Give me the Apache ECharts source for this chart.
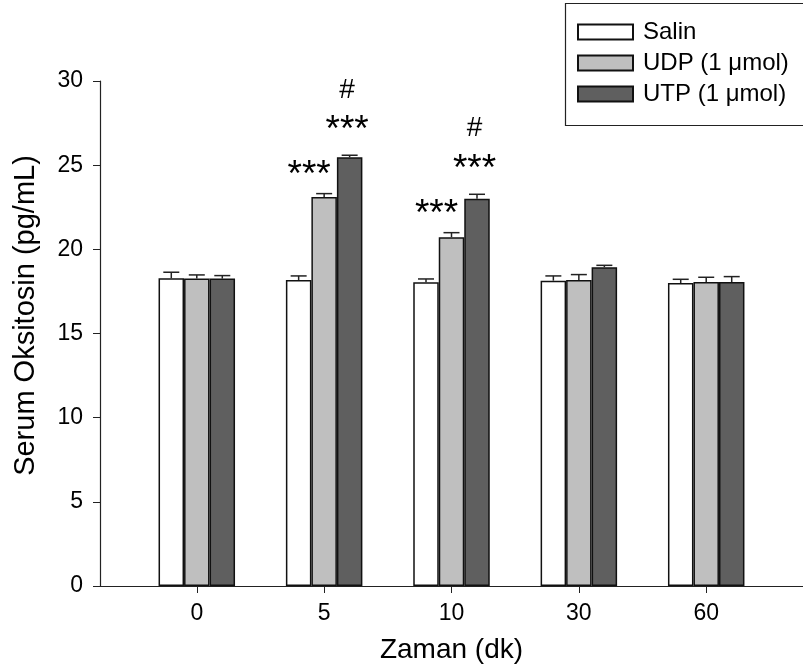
<!DOCTYPE html>
<html>
<head>
<meta charset="utf-8">
<script src="https://cdn.jsdelivr.net/npm/echarts@6/dist/echarts.min.js"></script>
<style>
  html, body { margin: 0; padding: 0; background: #fff; }
  #main { width: 803px; height: 672px; }
</style>
</head>
<body>
<div id="main"></div>
<script>
const categories = ['0', '5', '10', '30', '60'];
const yTicks = [0, 5, 10, 15, 20, 25, 30];

const salin = [18.28, 18.18, 18.04, 18.14, 18.0];
const salinErr = [0.36, 0.24, 0.2, 0.28, 0.22];
const udp = [18.26, 23.11, 20.72, 18.18, 18.06];
const udpErr = [0.22, 0.2, 0.27, 0.32, 0.28];
const utp = [18.26, 25.47, 23.0, 18.94, 18.06];
const utpErr = [0.18, 0.12, 0.27, 0.11, 0.32];

// significance marks: [category index, series index, y value, text]
const marks = [
    [1, 1, 24.84, '***'],
    [1, 2, 27.5, '***'],
    [1, 2, 29.47, '#'],
    [2, 1, 22.52, '***'],
    [2, 2, 25.19, '***'],
    [2, 2, 27.21, '#'],
];

const BAR_W = 25.5;
const FONT = 'Liberation Sans, Arial, sans-serif';

const groups = [
    {name: 'Salin', data: salin, err: salinErr, color: '#ffffff'},
    {name: 'UDP (1 μmol)', data: udp, err: udpErr, color: '#bfbfbf'},
    {name: 'UTP (1 μmol)', data: utp, err: utpErr, color: '#5f5f5f'},
];

const chart = echarts.init(document.getElementById('main'));

const barSeries = groups.map(g => ({
    name: g.name,
    type: 'bar',
    barWidth: BAR_W,
    barGap: '0%',
    itemStyle: {
        color: g.color,
        borderColor: '#111',
        borderWidth: 1.5
    },
    emphasis: {disabled: true},
    data: g.data.map((v, i) => [i, v])
}));

const errData = [];
groups.forEach((g, s) => {
    g.data.forEach((v, i) => errData.push([i, v, v + g.err[i], s]));
});

const errSeries = {
    type: 'custom',
    silent: true,
    z: 5,
    data: errData,
    renderItem: function (params, api) {
        const off = (api.value(3) - 1) * BAR_W;
        const lo = api.coord([api.value(0), api.value(1)]);
        const hi = api.coord([api.value(0), api.value(2)]);
        const x = lo[0] + off;
        const style = {stroke: '#222', lineWidth: 1.5};
        return {
            type: 'group',
            children: [
                {type: 'line', shape: {x1: x, y1: lo[1], x2: x, y2: hi[1]}, style: style},
                {type: 'line', shape: {x1: x - 8, y1: hi[1], x2: x + 8, y2: hi[1]}, style: style}
            ]
        };
    }
};

const markSeries = {
    type: 'custom',
    silent: true,
    z: 6,
    data: marks,
    renderItem: function (params, api) {
        const txt = marks[params.dataIndex][3];
        const isStar = txt === '***';
        const s = api.value(1);
        const off = (s - 1) * BAR_W + (s === 1 ? -15 : -2.5);
        const p = api.coord([api.value(0), api.value(2)]);
        return {
            type: 'text',
            x: p[0] + off,
            y: p[1] + (isStar ? 8 : 0),
            style: {
                text: txt,
                fill: '#000',
                font: isStar ? '37px ' + FONT : '28px ' + FONT,
                align: 'center',
                verticalAlign: 'middle'
            }
        };
    }
};

const option = {
    animation: false,
    backgroundColor: '#fff',
    textStyle: {fontFamily: FONT},
    grid: {left: 100, right: 0, top: 81, bottom: 86},
    legend: {
        orient: 'vertical',
        left: 577,
        top: 20,
        padding: 0,
        itemWidth: 55,
        itemHeight: 15,
        itemGap: 7,
        icon: 'rect',
        selectedMode: false,
        data: groups.map(g => g.name),
        textStyle: {fontSize: 24, lineHeight: 20, color: '#000', fontFamily: FONT, padding: [0, 0, 0, 5]}
    },
    graphic: [{
        type: 'rect',
        left: 563,
        top: 1,
        shape: {width: 239, height: 122},
        style: {fill: 'none', stroke: '#222', lineWidth: 1.2},
        silent: true
    }],
    xAxis: {
        type: 'value',
        min: -0.76,
        max: 4.76,
        name: 'Zaman (dk)',
        nameLocation: 'middle',
        nameGap: 50,
        nameTextStyle: {fontSize: 28, color: '#000'},
        axisLine: {onZero: false, lineStyle: {color: '#222', width: 1.2}},
        axisTick: {show: true, length: 7, customValues: [0, 1, 2, 3, 4], lineStyle: {color: '#222'}},
        axisLabel: {
            customValues: [0, 1, 2, 3, 4],
            formatter: v => categories[Math.round(v)],
            fontSize: 23,
            color: '#000',
            margin: 16
        },
        splitLine: {show: false}
    },
    yAxis: {
        type: 'value',
        min: 0,
        max: 30,
        interval: 5,
        name: 'Serum Oksitosin (pg/mL)',
        nameLocation: 'middle',
        nameGap: 60,
        nameTextStyle: {fontSize: 29, color: '#000', padding: [0, 0, 0, 36]},
        axisLine: {show: true, onZero: false, lineStyle: {color: '#222', width: 1.2}},
        axisTick: {show: true, length: 7, lineStyle: {color: '#222'}},
        axisLabel: {
            fontSize: 23,
            color: '#000',
            margin: 17,
            formatter: v => yTicks.includes(v) ? String(v) : ''
        },
        splitLine: {show: false}
    },
    series: [...barSeries, errSeries, markSeries]
};

chart.setOption(option);
</script>
</body>
</html>
